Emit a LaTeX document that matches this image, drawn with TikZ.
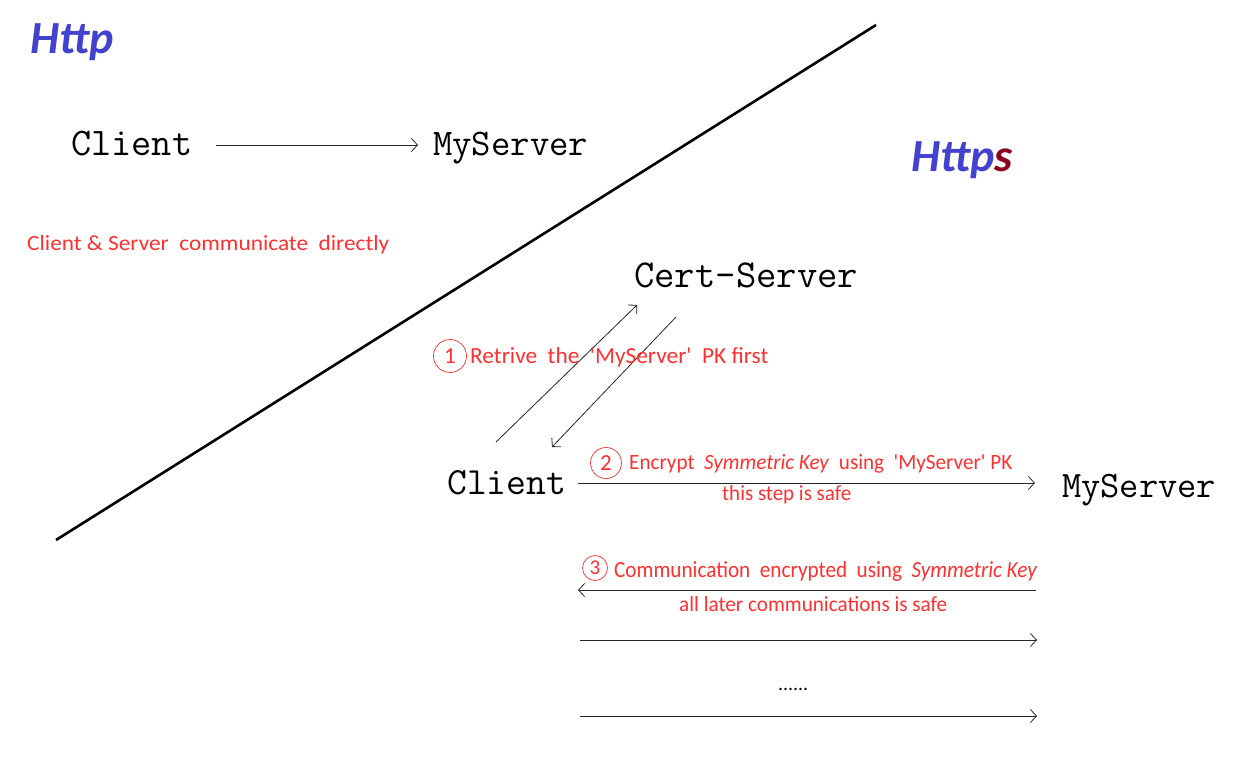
\documentclass[tikz,border=0pt]{standalone}
\usepackage{fontspec}
\usepackage{graphicx}
\newfontfamily\calib{Carlito}
\usetikzlibrary{arrows.meta}
\definecolor{hblue}{RGB}{66,66,206}
\definecolor{hred}{RGB}{140,0,30}
\definecolor{tred}{RGB}{255,48,48}
\newcommand{\fw}[2]{\resizebox{#1pt}{!}{#2}}
\newcommand{\fwh}[3]{\resizebox{#1pt}{#2pt}{#3}}
\begin{document}
\begin{tikzpicture}[x=1pt,y=-1pt,
  mono/.style={inner sep=0pt,anchor=base west,font=\ttfamily\fontsize{38}{40}\selectfont},
  rtext/.style={inner sep=0pt,anchor=base west,text=tred,font=\calib\fontsize{20}{24}\selectfont},
  num/.style={circle,draw=tred,line width=0.7pt,inner sep=0pt,minimum size=#1,text=tred,font=\calib\fontsize{23}{24}\selectfont},
  num/.default=32pt,
  title/.style={inner sep=0pt,anchor=base west,font=\calib\bfseries\itshape\fontsize{46}{50}\selectfont,text=hblue},
  arr/.style={-{Straight Barb[length=6pt,width=13pt]},line width=0.8pt,draw=black!85}]
\useasboundingbox (0,0) rectangle (1242,760);
% titles
\node[title] (http) at (30,53) {Http};
\node[title] (https) at (911,171) {Http\textcolor{hred}{s}};
% divider
\coordinate (l1) at (56,540);
\coordinate (l2) at (876,25);
\draw[line width=2.6pt] (l1) -- (l2);
% http part
\node[mono] (c1) at (71,155.5) {\fw{121}{Client}};
\node[mono] (m1) at (433,155.5) {\fw{155}{MyServer}};
\coordinate (a1s) at (216,145);
\coordinate (a1e) at (418,145);
\draw[arr] (a1s) -- (a1e);
\node[rtext] (t0) at (27,250) {\fwh{362}{15}{Client \& Server~ communicate~ directly}};
% https part
\node[mono] (cs) at (634,287) {\fw{224}{Cert-Server}};
\node[mono] (c2) at (447,494.5) {\fw{119}{Client}};
\node[mono] (m2) at (1062,497) {\fw{154}{MyServer}};
\coordinate (u1) at (496,442);
\coordinate (u2) at (637,305);
\coordinate (d1) at (676,317);
\coordinate (d2) at (552,447);
\draw[arr] (u1) -- (u2);
\draw[arr] (d1) -- (d2);
\node[num=33pt] (n1) at (450,356) {1};
\node[rtext] (t1) at (470,363) {\fwh{298}{16}{Retrive~ the~ 'MyServer'~ PK first}};
\node[num=31pt] (n2) at (606,463) {2};
\node[rtext] (t2) at (629,469) {\fwh{383}{15}{Encrypt~ \textit{Symmetric Key}~ using~ 'MyServer' PK}};
\coordinate (s2a) at (578,483);
\coordinate (s2b) at (1035,483);
\draw[arr] (s2a) -- (s2b);
\node[rtext] (t2b) at (722,500) {\fwh{129}{15}{this step is safe}};
\node[num=25pt,font=\calib\fontsize{21}{22}\selectfont] (n3) at (595,568) {3};
\node[rtext] (t3) at (614,577) {\fwh{423}{16}{Communication~ encrypted~ using~ \textit{Symmetric Key}}};
\coordinate (s3a) at (1036,590);
\coordinate (s3b) at (578,590);
\draw[arr] (s3a) -- (s3b);
\node[rtext] (t3b) at (679,611) {\fwh{268}{15}{all later communications is safe}};
\coordinate (s4a) at (580,640);
\coordinate (s4b) at (1037,640);
\draw[arr] (s4a) -- (s4b);
\node[inner sep=0pt,anchor=base west,font=\calib\fontsize{20}{24}\selectfont] (dots) at (778,690) {\fw{30}{......}};
\coordinate (s5a) at (580,716);
\coordinate (s5b) at (1037,716);
\draw[arr] (s5a) -- (s5b);
\end{tikzpicture}
\end{document}
